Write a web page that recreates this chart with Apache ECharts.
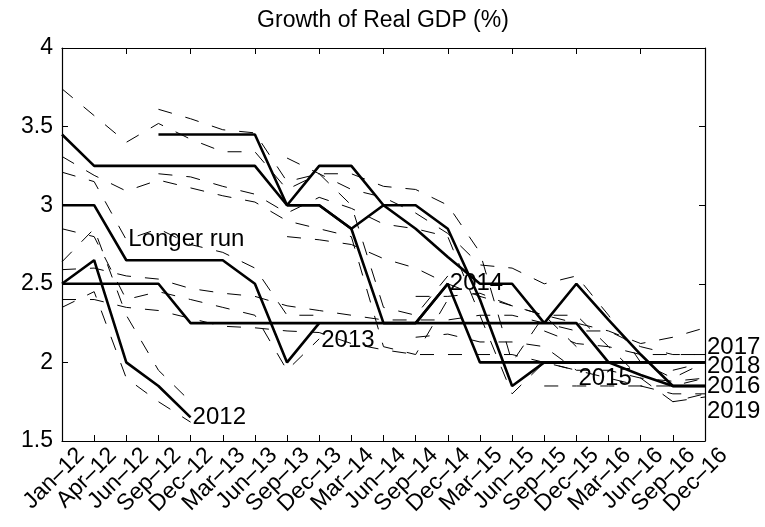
<!DOCTYPE html>
<html>
<head>
<meta charset="utf-8">
<script src="https://cdn.jsdelivr.net/npm/echarts@6/dist/echarts.min.js"></script>
<style>
  html, body { margin: 0; padding: 0; background: #fff; }
  #chart { width: 765px; height: 527px; }
</style>
</head>
<body>
<div id="chart"></div>
<script>
// FOMC projection dates (x axis)
const quarters = ['Jan–12', 'Apr–12', 'Jun–12', 'Sep–12', 'Dec–12', 'Mar–13', 'Jun–13',
  'Sep–13', 'Dec–13', 'Mar–14', 'Jun–14', 'Sep–14', 'Dec–14', 'Mar–15', 'Jun–15',
  'Sep–15', 'Dec–15', 'Mar–16', 'Jun–16', 'Sep–16', 'Dec–16'];

// y axis ticks
const yMin = 1.5, yMax = 4, yStep = 0.5;

// Projections of real GDP growth for each target year.
// start = index of the first projection date; med = solid line; hi / lo = dashed band
const start2012 = 0;
const med2012 = [2.5, 2.65, 2.0, 1.85, 1.65];
const hi2012  = [2.64, 2.85, 2.3, 1.95, 1.75];
const lo2012  = [2.35, 2.45, 1.9, 1.75, 1.62];

const start2013 = 0;
const med2013 = [3.0, 3.0, 2.65, 2.65, 2.65, 2.65, 2.5, 2.0, 2.25];
const hi2013  = [3.21, 3.15, 2.78, 2.85, 2.75, 2.7, 2.6, 2.3, 2.3];
const lo2013  = [2.85, 2.8, 2.4, 2.45, 2.4, 2.35, 2.3, 1.95, 2.15];

const start2014 = 0;
const med2014 = [3.45, 3.25, 3.25, 3.25, 3.25, 3.25, 3.25, 3.0, 3.0, 2.85, 2.25, 2.25, 2.5];
const hi2014  = [3.74, 3.57, 3.40, 3.52, 3.42, 3.34, 3.34, 3.1, 3.2, 3.0, 2.35, 2.3, 2.55];
const lo2014  = [3.31, 3.19, 3.09, 3.16, 3.11, 3.06, 3.02, 2.9, 2.85, 2.8, 2.1, 2.05, 2.4];

const start2015 = 3;
const med2015 = [3.45, 3.45, 3.45, 3.45, 3.0, 3.25, 3.25, 3.0, 3.0, 2.85, 2.4, 1.85, 2.0, 2.0];
const hi2015  = [3.61, 3.55, 3.48, 3.46, 3.15, 3.2, 3.2, 3.12, 3.1, 3.0, 2.7, 2.0, 2.3, 2.1];
const lo2015  = [3.2, 3.18, 3.12, 3.07, 2.95, 3.05, 2.98, 2.88, 2.85, 2.8, 2.3, 1.8, 2.0, 1.95];

const start2016 = 7;
const med2016 = [3.0, 3.0, 2.85, 3.0, 2.85, 2.67, 2.5, 2.5, 2.25, 2.5, 2.27, 2.05, 1.85, 1.85];
const hi2016  = [3.3, 3.2, 3.1, 3.05, 2.95, 2.82, 2.62, 2.6, 2.5, 2.55, 2.3, 2.0, 1.9, 2.0];
const lo2016  = [2.8, 2.78, 2.75, 2.66, 2.6, 2.5, 2.42, 2.36, 2.3, 2.3, 2.1, 1.9, 1.75, 1.8];

const start2017 = 11;
const med2017 = [2.25, 2.5, 2.0, 2.0, 2.0, 2.0, 2.0, 2.0, 2.0, 2.0];
const hi2017  = [2.42, 2.42, 2.44, 2.36, 2.3, 2.25, 2.2, 2.12, 2.16, 2.22];
const lo2017  = [2.16, 2.18, 2.13, 2.13, 2.1, 1.95, 1.95, 1.9, 1.88, 1.9];

const start2018 = 15;
const med2018 = [2.0, 2.0, 2.0, 2.0, 2.0, 2.0];
const hi2018  = [2.2, 2.12, 2.1, 2.05, 2.05, 2.05];
const lo2018  = [1.85, 1.85, 1.85, 1.85, 1.85, 1.9];

const start2019 = 19;
const med2019 = [1.85, 1.85];
const hi2019  = [1.95, 2.0];
const lo2019  = [1.75, 1.78];

const startLR = 0;
const medLR = [2.5, 2.5, 2.5, 2.5, 2.25, 2.25, 2.25, 2.25, 2.25, 2.25, 2.25, 2.25, 2.25, 2.25, 2.25, 2.25, 2.25, 2.0, 1.92, 1.85, 1.85];
const hiLR  = [2.59, 2.6, 2.55, 2.53, 2.47, 2.44, 2.42, 2.36, 2.33, 2.3, 2.27, 2.27, 2.27, 2.3, 2.3, 2.25, 2.2, 2.2, 2.1, 2.05, 2.05];
const loLR  = [2.40, 2.4, 2.35, 2.33, 2.28, 2.23, 2.22, 2.2, 2.19, 2.12, 2.08, 2.05, 2.05, 2.05, 2.05, 2.0, 1.95, 1.9, 1.85, 1.8, 1.8];

const FONT = '"Liberation Sans", Arial, Helvetica, sans-serif';

const groups = [
  { name: '2012', start: start2012, med: med2012, hi: hi2012, lo: lo2012 },
  { name: '2013', start: start2013, med: med2013, hi: hi2013, lo: lo2013 },
  { name: '2014', start: start2014, med: med2014, hi: hi2014, lo: lo2014 },
  { name: '2015', start: start2015, med: med2015, hi: hi2015, lo: lo2015 },
  { name: '2016', start: start2016, med: med2016, hi: hi2016, lo: lo2016 },
  { name: '2017', start: start2017, med: med2017, hi: hi2017, lo: lo2017 },
  { name: '2018', start: start2018, med: med2018, hi: hi2018, lo: lo2018 },
  { name: '2019', start: start2019, med: med2019, hi: hi2019, lo: lo2019 },
  { name: 'Longer run', start: startLR, med: medLR, hi: hiLR, lo: loLR }
];

// place a projection path on the full date axis
function place(start, values) {
  return quarters.map((q, i) => (i >= start && i - start < values.length) ? values[i - start] : null);
}

const series = [];
groups.forEach(g => {
  ['hi', 'lo'].forEach(k => series.push({
    name: g.name + ' ' + k, type: 'line', data: place(g.start, g[k]),
    symbol: 'none', silent: true, animation: false, z: 2,
    lineStyle: { color: '#000', width: 1, type: [14, 14] }
  }));
});
groups.forEach(g => series.push({
  name: g.name, type: 'line', data: place(g.start, g.med),
  symbol: 'none', silent: true, animation: false, z: 3,
  lineStyle: { color: '#000', width: 2.6 }
}));

// year tags: anchored at a point of each solid line, nudged in pixels
const tagSpots = [
  { name: '2012', at: 'end', dy: 0 },
  { name: '2013', at: 'end', dy: 17 },
  { name: '2014', at: 'end', dy: 0 },
  { name: '2015', at: 'end', dy: 16 },
  { name: '2016', at: 'end', dy: 0 },
  { name: '2017', at: 'end', dy: -15 },
  { name: '2018', at: 'end', dy: 4 },
  { name: '2019', at: 'end', dy: 25 },
  { name: 'Longer run', at: 2, dy: -44 }
];
const tagData = tagSpots.map(t => {
  const g = groups.find(x => x.name === t.name);
  const idx = t.at === 'end' ? g.start + g.med.length - 1 : t.at;
  return {
    value: [idx, g.med[idx - g.start]],
    label: { formatter: t.name, offset: [0, t.dy] }
  };
});
series.push({
  type: 'scatter', data: tagData, symbolSize: 0, silent: true, animation: false, z: 5,
  itemStyle: { opacity: 1 },
  label: {
    show: true, position: 'right', distance: 2, color: '#000', opacity: 1,
    textBorderWidth: 0, fontSize: 24, fontFamily: FONT
  }
});

const tickStyle = { show: true, inside: true, length: 6, lineStyle: { color: '#000', width: 1 } };
const lineStyle = { show: true, lineStyle: { color: '#000', width: 1.2 } };

const chart = echarts.init(document.getElementById('chart'), null, { renderer: 'canvas' });
chart.setOption({
  backgroundColor: '#fff',
  animation: false,
  title: {
    text: 'Growth of Real GDP (%)', left: 383, textAlign: 'center', top: 9, padding: 0,
    textStyle: { color: '#000', fontSize: 23, fontWeight: 'normal', fontFamily: FONT }
  },
  grid: { left: 62, right: 60, top: 48, bottom: 86, containLabel: false },
  xAxis: [
    {
      type: 'category', data: quarters, boundaryGap: false, position: 'bottom',
      axisLine: lineStyle, axisTick: tickStyle,
      axisLabel: {
        rotate: 45, interval: 0, margin: 2, verticalAlign: 'top', padding: [8, -7, 0, 0],
        color: '#000', fontSize: 23, fontFamily: FONT
      },
      splitLine: { show: false }
    },
    {
      type: 'category', data: quarters, boundaryGap: false, position: 'top',
      axisLine: lineStyle, axisTick: tickStyle, axisLabel: { show: false }, splitLine: { show: false }
    }
  ],
  yAxis: [
    {
      type: 'value', min: yMin, max: yMax, interval: yStep, position: 'left',
      axisLine: lineStyle, axisTick: tickStyle,
      axisLabel: { margin: 9, color: '#000', fontSize: 23, fontFamily: FONT },
      splitLine: { show: false }
    },
    {
      type: 'value', min: yMin, max: yMax, interval: yStep, position: 'right',
      axisLine: lineStyle, axisTick: tickStyle, axisLabel: { show: false }, splitLine: { show: false }
    }
  ],
  series: series
});
</script>
</body>
</html>
